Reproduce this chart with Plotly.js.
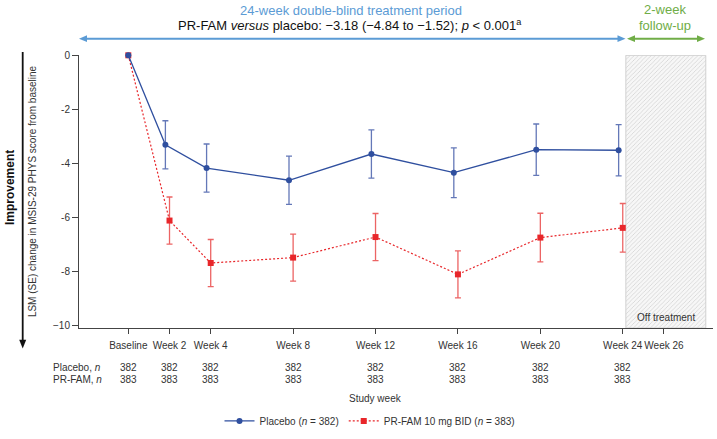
<!DOCTYPE html>
<html>
<head>
<meta charset="utf-8">
<script src="https://cdn.plot.ly/plotly-3.0.1.min.js"></script>
<style>html,body{margin:0;padding:0;background:#fff;}#chart{width:717px;height:439px;}</style>
</head>
<body>
<div id="chart"></div>
<script>
// ---- data ----
const weeks = [0, 2, 4, 8, 12, 16, 20, 24];
const placeboLSM = [0, -3.31, -4.17, -4.62, -3.65, -4.34, -3.49, -3.51];
const placeboSE  = [NaN, 0.89, 0.89, 0.89, 0.89, 0.92, 0.95, 0.95];
const prfamLSM   = [0, -6.11, -7.68, -7.48, -6.72, -8.10, -6.74, -6.38];
const prfamSE    = [NaN, 0.87, 0.87, 0.87, 0.87, 0.87, 0.90, 0.90];
const tickWeeks  = [0, 2, 4, 8, 12, 16, 20, 24, 26];
const tickLabels = ['Baseline', 'Week 2', 'Week 4', 'Week 8', 'Week 12', 'Week 16', 'Week 20', 'Week 24', 'Week 26'];
const placeboN   = [382, 382, 382, 382, 382, 382, 382, 382];
const prfamN     = [383, 383, 383, 383, 383, 383, 383, 383];
const yTickVals  = [0, -2, -4, -6, -8, -10];
const yTickText  = ['0', '-2', '-4', '-6', '-8', '\u221210'];
const offTreatment = [24.15, 28.03]; // follow-up period on the week axis

// ---- geometry helpers (plot area in px) ----
const L = 79, R = 713, T = 55, B = 334;
const px = v => (v - L) / (R - L);
const py = v => (B - v) / (B - T);

const blue = '#2F4F9F', blueErr = '#6478B8';
const red = '#E8262A', redErr = '#EC6464';
const dodge = -0.2;

const traces = [
  {
    x: [offTreatment[0], offTreatment[1], offTreatment[1], offTreatment[0], offTreatment[0]],
    y: [-10.083, -10.083, 0, 0, -10.083],
    type: 'scatter', mode: 'lines', fill: 'toself',
    fillcolor: '#f3f3f3',
    fillpattern: {shape: '/', fgcolor: '#c8c8c8', bgcolor: '#f7f7f7', size: 3, solidity: 0.2},
    line: {color: '#d0d0d0', width: 1},
    showlegend: false, hoverinfo: 'skip'
  },
  {
    x: weeks, y: prfamLSM, type: 'scatter', mode: 'lines+markers',
    name: 'PR-FAM 10 mg BID (<i>n</i> = 383)', legendrank: 2,
    line: {color: red, width: 1.2, dash: '2px,2px'},
    marker: {symbol: 'square', size: 6, color: red},
    error_y: {type: 'data', array: prfamSE, visible: true, color: redErr, thickness: 1.3, width: 3},
    cliponaxis: false
  },
  {
    x: weeks.map((w, i) => i === 0 ? w : w + dodge), y: placeboLSM, type: 'scatter', mode: 'lines+markers',
    name: 'Placebo (<i>n</i> = 382)', legendrank: 1,
    line: {color: blue, width: 1.3},
    marker: {symbol: 'circle', size: 6, color: blue},
    error_y: {type: 'data', array: placeboSE, visible: true, color: blueErr, thickness: 1.3, width: 3},
    cliponaxis: false
  }
];

const annotations = [
  {xref: 'paper', yref: 'paper', x: px(351), y: py(10), text: '24-week double-blind treatment period',
   showarrow: false, font: {size: 13, color: '#5B9BD5'}, xanchor: 'center', yanchor: 'middle'},
  {xref: 'paper', yref: 'paper', x: px(350), y: py(24.5), text: 'PR-FAM <i>versus</i> placebo: \u22123.18 (\u22124.84 to \u22121.52); <i>p</i> &lt; 0.001<sup>a</sup>',
   showarrow: false, font: {size: 13, color: '#111'}, xanchor: 'center', yanchor: 'middle'},
  {xref: 'paper', yref: 'paper', x: px(665), y: py(9), text: '2-week',
   showarrow: false, font: {size: 13, color: '#70AD47'}, xanchor: 'center', yanchor: 'middle'},
  {xref: 'paper', yref: 'paper', x: px(665), y: py(24.5), text: 'follow-up',
   showarrow: false, font: {size: 13, color: '#70AD47'}, xanchor: 'center', yanchor: 'middle'},
  {xref: 'paper', yref: 'paper', x: px(10), y: py(191), text: '<b>Improvement</b>', textangle: -90,
   showarrow: false, font: {size: 12, color: '#111'}, xanchor: 'center', yanchor: 'middle'},
  {xref: 'x', yref: 'y', x: (offTreatment[0] + offTreatment[1]) / 2, y: -9.68, text: 'Off treatment',
   showarrow: false, font: {size: 10, color: '#333'}, xanchor: 'center', yanchor: 'middle'},
  {xref: 'paper', yref: 'paper', x: px(375), y: py(406), text: 'Study week',
   showarrow: false, font: {size: 10, color: '#333'}, xanchor: 'center', yanchor: 'middle'},
  {xref: 'paper', yref: 'paper', x: px(50.5), y: py(374.5), text: 'Placebo, <i>n</i>',
   showarrow: false, font: {size: 10, color: '#333'}, xanchor: 'left', yanchor: 'middle'},
  {xref: 'paper', yref: 'paper', x: px(50.5), y: py(387), text: 'PR-FAM, <i>n</i>',
   showarrow: false, font: {size: 10, color: '#333'}, xanchor: 'left', yanchor: 'middle'}
];
weeks.forEach((w, i) => {
  annotations.push({xref: 'x', yref: 'paper', x: w, y: py(374.5), text: String(placeboN[i]),
    showarrow: false, font: {size: 10, color: '#333'}, xanchor: 'center', yanchor: 'middle'});
  annotations.push({xref: 'x', yref: 'paper', x: w, y: py(387), text: String(prfamN[i]),
    showarrow: false, font: {size: 10, color: '#333'}, xanchor: 'center', yanchor: 'middle'});
});

function tri(tipX, tipY, dir, len, half) {
  let p;
  if (dir === 'l') p = [[tipX, tipY], [tipX + len, tipY - half], [tipX + len, tipY + half]];
  else if (dir === 'r') p = [[tipX, tipY], [tipX - len, tipY - half], [tipX - len, tipY + half]];
  else p = [[tipX, tipY], [tipX - half, tipY - len], [tipX + half, tipY - len]];
  return 'M' + p.map(q => px(q[0]) + ',' + py(q[1])).join('L') + 'Z';
}
const arrowBlue = '#5B9BD5', arrowGreen = '#70AD47';
const shapes = [
  {type: 'line', xref: 'paper', yref: 'paper', x0: px(84), x1: px(620), y0: py(38.3), y1: py(38.3), line: {color: arrowBlue, width: 2}},
  {type: 'path', xref: 'paper', yref: 'paper', path: tri(79, 38.3, 'l', 8, 3.5), fillcolor: arrowBlue, line: {width: 0}},
  {type: 'path', xref: 'paper', yref: 'paper', path: tri(625.5, 38.3, 'r', 8, 3.5), fillcolor: arrowBlue, line: {width: 0}},
  {type: 'line', xref: 'paper', yref: 'paper', x0: px(632), x1: px(700), y0: py(38.3), y1: py(38.3), line: {color: arrowGreen, width: 2}},
  {type: 'path', xref: 'paper', yref: 'paper', path: tri(627, 38.3, 'l', 8, 3.5), fillcolor: arrowGreen, line: {width: 0}},
  {type: 'path', xref: 'paper', yref: 'paper', path: tri(705, 38.3, 'r', 8, 3.5), fillcolor: arrowGreen, line: {width: 0}},
  {type: 'line', xref: 'paper', yref: 'paper', x0: px(22.7), x1: px(22.7), y0: py(52), y1: py(348), line: {color: '#111', width: 1.8}},
  {type: 'path', xref: 'paper', yref: 'paper', path: tri(22.7, 355, 'd', 9, 3.5), fillcolor: '#111', line: {width: 0}}
];

const layout = {
  width: 717, height: 439,
  margin: {l: L, r: 717 - R, t: T, b: 439 - B, pad: 0},
  paper_bgcolor: '#fff', plot_bgcolor: '#fff',
  font: {family: '"Liberation Sans", Arial, sans-serif', size: 10, color: '#333'},
  showlegend: true,
  legend: {orientation: 'h', x: px(370), xanchor: 'center', y: py(429), yanchor: 'middle',
           font: {size: 10, color: '#333'}, itemwidth: 30, tracegroupgap: 0, bgcolor: 'rgba(0,0,0,0)'},
  xaxis: {
    range: [-2.393, 28.38], showgrid: false, zeroline: false,
    showline: true, linecolor: '#444', linewidth: 1,
    ticks: 'outside', ticklen: 5, tickcolor: '#444', tickwidth: 1,
    tickvals: tickWeeks, ticktext: tickLabels, tickangle: 0, ticklabelstandoff: 3,
    tickfont: {size: 10, color: '#333'}, fixedrange: true
  },
  yaxis: {
    range: [-10.083, 0.011], showgrid: false, zeroline: false,
    showline: true, linecolor: '#444', linewidth: 1,
    ticks: 'outside', ticklen: 6, tickcolor: '#444', tickwidth: 1,
    tickvals: yTickVals, ticktext: yTickText,
    tickfont: {size: 10, color: '#333'},
    title: {text: 'LSM (SE) change in MSIS-29 PHYS score from baseline', font: {size: 10, color: '#333'}, standoff: 14},
    fixedrange: true
  },
  annotations: annotations,
  shapes: shapes
};

Plotly.newPlot('chart', traces, layout, {displayModeBar: false, staticPlot: true});
</script>
</body>
</html>
